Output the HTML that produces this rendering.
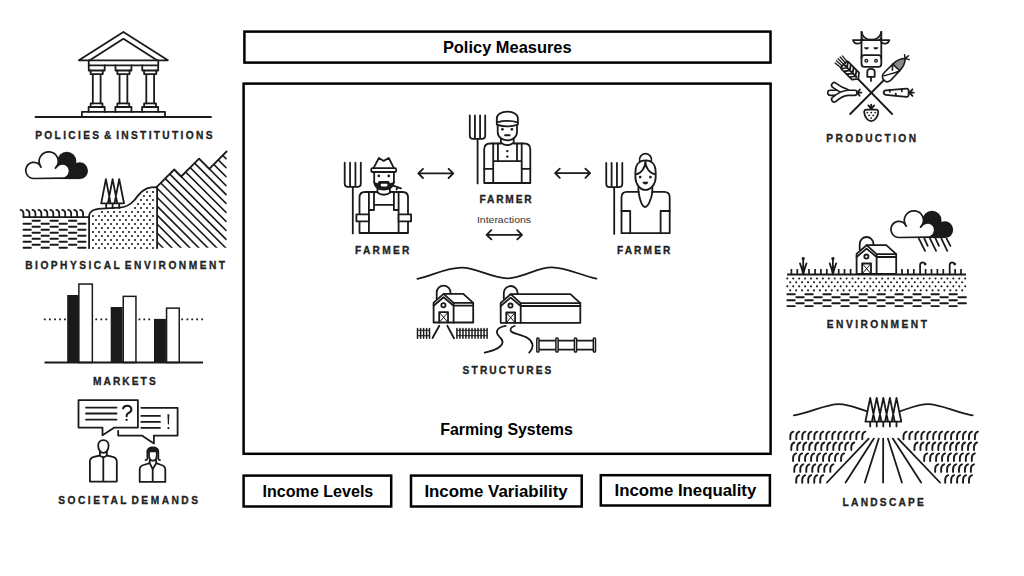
<!DOCTYPE html>
<html><head><meta charset="utf-8"><title>Farming Systems</title>
<style>
html,body{margin:0;padding:0;background:#fff;width:1024px;height:576px;overflow:hidden}
svg{display:block}
.bx{fill:none;stroke:#000;stroke-width:2.5}
.bt{font-family:"Liberation Sans",sans-serif;font-weight:bold;font-size:17px;fill:#000}
.lb{font-family:"Liberation Sans",sans-serif;font-weight:bold;font-size:10.2px;fill:#222;stroke:#222;stroke-width:0.3;word-spacing:-2.6px}
.ic{fill:none;stroke:#1a1a1a;stroke-width:1.8;stroke-linecap:round;stroke-linejoin:round}
.icb{fill:none;stroke:#1a1a1a;stroke-width:1.8;stroke-linecap:butt;stroke-linejoin:miter}
.fd{fill:#1a1a1a}
.fw{fill:#fff}
</style></head>
<body>
<svg width="1024" height="576" viewBox="0 0 1024 576">
<rect width="1024" height="576" fill="#fff"/>
<rect class="bx" x="244.4" y="31.6" width="526.1" height="31"/>
<text class="bt" x="442.9" y="52.6" textLength="128.7" lengthAdjust="spacingAndGlyphs">Policy Measures</text>
<rect class="bx" x="243.6" y="83.6" width="527" height="370.2"/>
<text class="bt" x="440.2" y="434.9" textLength="132.7" lengthAdjust="spacingAndGlyphs">Farming Systems</text>
<rect class="bx" x="243.6" y="475.6" width="147.6" height="30.9"/>
<text class="bt" x="262.6" y="496.6" textLength="110.7" lengthAdjust="spacingAndGlyphs">Income Levels</text>
<rect class="bx" x="411" y="475.6" width="170.7" height="30.9"/>
<text class="bt" x="424.4" y="496.6" textLength="143.3" lengthAdjust="spacingAndGlyphs">Income Variability</text>
<rect class="bx" x="600.8" y="475.2" width="169.1" height="30.3"/>
<text class="bt" x="614.5" y="496.2" textLength="141.8" lengthAdjust="spacingAndGlyphs">Income Inequality</text>

<text class="lb" x="35.2" y="138.9" textLength="177.3" lengthAdjust="spacing">POLICIES &amp; INSTITUTIONS</text>
<text class="lb" x="25.2" y="269.3" textLength="199.8" lengthAdjust="spacing">BIOPHYSICAL ENVIRONMENT</text>
<text class="lb" x="93" y="385.2" textLength="62.7" lengthAdjust="spacing">MARKETS</text>
<text class="lb" x="58.25" y="503.9" textLength="139.75" lengthAdjust="spacing">SOCIETAL DEMANDS</text>
<text class="lb" x="355" y="254.1" textLength="54.3" lengthAdjust="spacing">FARMER</text>
<text class="lb" x="479.5" y="203.1" textLength="52.1" lengthAdjust="spacing">FARMER</text>
<text class="lb" x="616.9" y="253.9" textLength="53.5" lengthAdjust="spacing">FARMER</text>
<text style="font-family:'Liberation Sans',sans-serif;font-size:9.2px;fill:#333" x="476.9" y="223" textLength="54.2" lengthAdjust="spacingAndGlyphs">Interactions</text>
<text class="lb" x="462.6" y="374" textLength="88.8" lengthAdjust="spacing">STRUCTURES</text>
<text class="lb" x="826.3" y="141.8" textLength="89.7" lengthAdjust="spacing">PRODUCTION</text>
<text class="lb" x="826.8" y="327.6" textLength="100.1" lengthAdjust="spacing">ENVIRONMENT</text>
<text class="lb" x="842.6" y="506.2" textLength="81.3" lengthAdjust="spacing">LANDSCAPE</text>
<g class="ic">
<path d="M78.9 60.3 L123.4 31.9 L167.9 60.3 Z"/>
<path d="M89.8 60.3 L123.4 38.8 L157 60.3"/>
<path d="M88.75 60.3 V65.4 H158.25 V60.3"/>
<path d="M35.5 117 H211"/>
<path d="M81.9 117 V111.9 H165 V117"/>
</g>
<g class="ic" transform="translate(0,0)">
<path d="M88.75 65.4 V70.5 H104.7 V65.4"/>
<path d="M92.8 74.1 V103.4 M100.6 74.1 V103.4 M90.6 70.5 V74.1 H102.8 V70.5"/>
<path d="M90.6 103.4 H102.5 V107 M90.6 103.4 V107 M88.6 111.9 V107 H104.7 V111.9"/>
</g>
<g class="ic" transform="translate(26.75,0)">
<path d="M88.75 65.4 V70.5 H104.7 V65.4"/>
<path d="M92.8 74.1 V103.4 M100.6 74.1 V103.4 M90.6 70.5 V74.1 H102.8 V70.5"/>
<path d="M90.6 103.4 H102.5 V107 M90.6 103.4 V107 M88.6 111.9 V107 H104.7 V111.9"/>
</g>
<g class="ic" transform="translate(53.5,0)">
<path d="M88.75 65.4 V70.5 H104.7 V65.4"/>
<path d="M92.8 74.1 V103.4 M100.6 74.1 V103.4 M90.6 70.5 V74.1 H102.8 V70.5"/>
<path d="M90.6 103.4 H102.5 V107 M90.6 103.4 V107 M88.6 111.9 V107 H104.7 V111.9"/>
</g>
<g transform="translate(0,0)">
<circle class="fd" cx="66.8" cy="161.2" r="9.5"/>
<circle class="fd" cx="79.6" cy="170.7" r="8.4"/>
<rect class="fd" x="60" y="164" width="20" height="15.1"/>
<path d="M33.9 178.5 A8.1 8.1 0 1 1 39.77 164.82 A9.55 9.55 0 1 1 56.53 166.82 A7.2 7.2 0 1 1 62.5 178.2 Z" fill="#fff" stroke="#1a1a1a" stroke-width="1.7" stroke-linejoin="round"/>
<path d="M39.77 164.82 A9.55 9.55 0 0 0 41.05 167.1 M56.53 166.82 A9.55 9.55 0 0 1 55.43 168.03" class="ic" stroke-width="1.7"/>
</g>
<g class="ic">
<path d="M20.5 209.9 Q23.5 210.3 23.5 213.5 V217 M26.46 209.9 Q29.46 210.3 29.46 213.5 V217 M32.42 209.9 Q35.42 210.3 35.42 213.5 V217 M38.38 209.9 Q41.38 210.3 41.38 213.5 V217 M44.34 209.9 Q47.34 210.3 47.34 213.5 V217 M50.3 209.9 Q53.3 210.3 53.3 213.5 V217 M56.26 209.9 Q59.26 210.3 59.26 213.5 V217 M62.22 209.9 Q65.22 210.3 65.22 213.5 V217 M68.18 209.9 Q71.18 210.3 71.18 213.5 V217 M74.14 209.9 Q77.14 210.3 77.14 213.5 V217 M80.1 209.9 Q83.1 210.3 83.1 213.5 V217"/>
<path d="M23.5 217.1 H89.1"/>
</g>
<path d="M23.5 223.8 h7.4 M41.5 223.8 h7.4 M59.5 223.8 h7.4 M78.2 223.8 h7.4 M32.5 220.8 h7.4 M50.5 220.8 h7.4 M69 220.8 h7.4 M23.5 229.8 h7.4 M41.5 229.8 h7.4 M59.5 229.8 h7.4 M78.2 229.8 h7.4 M32.5 226.8 h7.4 M50.5 226.8 h7.4 M69 226.8 h7.4 M23.5 235.8 h7.4 M41.5 235.8 h7.4 M59.5 235.8 h7.4 M78.2 235.8 h7.4 M32.5 232.8 h7.4 M50.5 232.8 h7.4 M69 232.8 h7.4 M23.5 241.8 h7.4 M41.5 241.8 h7.4 M59.5 241.8 h7.4 M78.2 241.8 h7.4 M32.5 238.8 h7.4 M50.5 238.8 h7.4 M69 238.8 h7.4 M23.5 247.8 h7.4 M41.5 247.8 h7.4 M59.5 247.8 h7.4 M78.2 247.8 h7.4 M32.5 244.8 h7.4 M50.5 244.8 h7.4 M69 244.8 h7.4" stroke="#1a1a1a" stroke-width="1.9" stroke-linecap="round" fill="none"/>
<path class="ic" d="M89.1 248.2 V216.6 C89.1 211 93 209 101.6 208.6 L119.6 207.6 C127 207.2 130.5 204.5 134 200.5 C139.5 194 143 188.5 151 187.3 L157.1 187.2 V248.2"/>
<path d="M147 192h0M153 192h0M144 196h0M150 196h0M141 200h0M147 200h0M153 200h0M138 204h0M144 204h0M150 204h0M135 208h0M141 208h0M147 208h0M153 208h0M102 212h0M108 212h0M114 212h0M120 212h0M126 212h0M132 212h0M138 212h0M144 212h0M150 212h0M93 216h0M99 216h0M105 216h0M111 216h0M117 216h0M123 216h0M129 216h0M135 216h0M141 216h0M147 216h0M153 216h0M96 220h0M102 220h0M108 220h0M114 220h0M120 220h0M126 220h0M132 220h0M138 220h0M144 220h0M150 220h0M93 224h0M99 224h0M105 224h0M111 224h0M117 224h0M123 224h0M129 224h0M135 224h0M141 224h0M147 224h0M153 224h0M96 228h0M102 228h0M108 228h0M114 228h0M120 228h0M126 228h0M132 228h0M138 228h0M144 228h0M150 228h0M93 232h0M99 232h0M105 232h0M111 232h0M117 232h0M123 232h0M129 232h0M135 232h0M141 232h0M147 232h0M153 232h0M96 236h0M102 236h0M108 236h0M114 236h0M120 236h0M126 236h0M132 236h0M138 236h0M144 236h0M150 236h0M93 240h0M99 240h0M105 240h0M111 240h0M117 240h0M123 240h0M129 240h0M135 240h0M141 240h0M147 240h0M153 240h0M96 244h0M102 244h0M108 244h0M114 244h0M120 244h0M126 244h0M132 244h0M138 244h0M144 244h0M150 244h0M93 248h0M99 248h0M105 248h0M111 248h0M117 248h0M123 248h0M129 248h0M135 248h0M141 248h0M147 248h0M153 248h0" stroke="#1a1a1a" stroke-width="2.1" stroke-linecap="round" fill="none"/>
<path class="ic" d="M101.2 203.3 L105.9 179.1 L110.6 203.3 M107.9 203.3 L112.6 179.1 L117.3 203.3 M114.5 203.3 L119.2 179.1 L124 203.3 M101.2 203.3 H124 M106.2 203.3 V208 M112.6 203.3 V208 M119.2 203.3 V208"/>
<clipPath id="mclip"><path d="M157.1 186.6 L174.2 169.5 L181.2 176.5 L199.1 158.6 L209.3 168.8 L226.8 151.3 L226.8 247.8 L157.1 247.8 Z"/></clipPath>
<path clip-path="url(#mclip)" d="M157.1 89.8 L226.6 159.3 M157.1 98.75 L226.6 168.25 M157.1 107.7 L226.6 177.2 M157.1 116.65 L226.6 186.15 M157.1 125.6 L226.6 195.1 M157.1 134.55 L226.6 204.05 M157.1 143.5 L226.6 213 M157.1 152.45 L226.6 221.95 M157.1 161.4 L226.6 230.9 M157.1 170.35 L226.6 239.85 M157.1 179.3 L226.6 248.8 M157.1 188.25 L226.6 257.75 M157.1 197.2 L226.6 266.7 M157.1 206.15 L226.6 275.65 M157.1 215.1 L226.6 284.6 M157.1 224.05 L226.6 293.55 M157.1 233 L226.6 302.5 M157.1 241.95 L226.6 311.45" stroke="#1a1a1a" stroke-width="1.6" fill="none"/>
<path class="ic" d="M157.1 186.6 L174.2 169.5 L181.2 176.5 L199.1 158.6 L209.3 168.8 L226.6 151.5"/>
<path d="M43.9 319.4h1.8M49 319.4h1.8M54.1 319.4h1.8M59.2 319.4h1.8M64 319.4h1.8M95.35 319.4h1.8M100.4 319.4h1.8M105.35 319.4h1.8M138.5 319.4h1.8M143.4 319.4h1.8M148.3 319.4h1.8M181.3 319.4h1.8M186.5 319.4h1.8M191.3 319.4h1.8M196.2 319.4h1.8M201.3 319.4h1.8" stroke="#1a1a1a" stroke-width="1.9" fill="none"/>
<rect class="fd" x="67.2" y="295" width="11.6" height="67.5"/>
<rect class="fd" x="110.7" y="307" width="11.9" height="55.5"/>
<rect class="fd" x="154" y="318.9" width="11.9" height="43.6"/>
<g fill="#fff" stroke="#1a1a1a" stroke-width="1.5">
<rect x="78.85" y="284.05" width="13.5" height="78.45"/>
<rect x="123.25" y="296.35" width="12.7" height="66.15"/>
<rect x="166.55" y="308.15" width="12.7" height="54.35"/>
</g>
<path class="icb" d="M44.5 362.5 H203"/>
<g class="ic">
<path d="M141.3 407.8 H177.6 V435.6 H153.9 V443.4 L141.8 435.6 H118.2 V431"/>
<path d="M141.3 415.9 H160 M141.3 421.9 H160 M141.3 427.8 H160" stroke-width="1.8"/>
<path d="M78.5 400.1 H137.9 V427.6 H114.4 L102.5 435.3 V427.6 H78.5 Z" fill="#fff"/>
<path d="M86 407.6 H116.5 M86 413.5 H116.5 M86 419.7 H116.5" stroke-width="1.8"/>
<path stroke-width="2.1" d="M123.1 408.3 C123.8 406.4 125.4 405.7 127.2 405.7 C129.6 405.7 131.4 407.3 131.4 409.4 C131.4 411.5 129.8 412.3 128.2 413.2 C127 413.9 126.6 414.7 126.6 416.3"/>
</g>
<circle class="fd" cx="126.6" cy="419.9" r="1.15"/>
<path class="fd" d="M167.4 414.2 H169.4 L168.9 424.6 H167.9 Z"/>
<circle class="fd" cx="168.4" cy="428.1" r="1.1"/>
<g class="ic">
<path d="M103.4 440.2 C100.3 440.2 98.2 442.4 98.2 445.6 C98.2 450 100.6 452.9 103.4 452.9 C106.2 452.9 108.6 450 108.6 445.6 C108.6 442.4 106.5 440.2 103.4 440.2 Z"/>
<path d="M99.9 451.8 V455.4 M106.8 451.8 V455.4 M99.9 455.3 Q101.2 457.2 103.3 457.2 Q105.4 457.2 106.8 455.3"/>
<path d="M99.9 455.5 L94 456.8 Q89.9 458 89.9 461.5 V481.6 H116.8 V461.5 Q116.8 458 112.8 456.8 L106.8 455.5 M103.3 457.2 V481.6"/>
<path d="M147.4 451.6 V458.5 Q147.4 460 145.6 460.2 M158.3 451.6 V458.5 Q158.3 460 160 460.2"/>
<path d="M149 451.6 V455 Q149 460.7 152.9 460.7 Q156.8 460.7 156.8 455 V451.6"/>
<path d="M149.7 460.3 V463.2 M156.2 460.3 V463.2 M149.7 463.2 L152.7 469.1 L156.2 463.2"/>
<path d="M149.7 463.2 L143.6 465 Q139.7 466.2 139.7 469.5 V481.9 H165.3 V469.5 Q165.3 466.2 161.4 465 L156.2 463.2 M152.7 469.1 V481.9"/>
</g>
<path class="fd" d="M146.6 452.3 V451.5 C146.6 448.3 149.3 446.5 152.85 446.5 C156.4 446.5 159.1 448.3 159.1 451.5 V452.3 Z"/>
<path class="ic" d="M344.7 162.7 V183.5 Q344.7 186.9 348.1 186.9 H357.4 Q360.8 186.9 360.8 183.5 V162.7 M350.07 162.7 V186.9 M355.43 162.7 V186.9 M352.8 186.9 V233.4"/>
<g class="ic">
<path d="M373.5 168.2 L378.9 158 L383.7 160.9 L388.8 158 L393.9 168.2"/>
<rect x="371.3" y="168.2" width="24.8" height="3.8" rx="1"/>
<path d="M374.2 172 V182.5 M393.9 172 V182.5"/>
<path d="M377.5 188 V191.8 M389.9 188 V191.8 M376.7 192 Q383.7 197.5 391.2 192"/>
<path d="M359.5 233 V197.5 Q359.5 192 365 192 H376.7 M391.2 192 H402.5 Q408 192 408 197.5 V233 H359.5"/>
<path d="M368.9 192 V210 H374 V192 M374 204.9 H393.9 M393.9 192 V210 H398.6 V192 M368.9 210 V233 M398.6 210 V233"/>
<path d="M356.4 214.3 H368.9 V221.3 H356.4 Z M398.6 214.3 H411.1 V221.3 H398.6 Z" fill="#fff"/>
<path d="M391 184.8 L401 188.4 M397.2 187.3 L396.6 189.6"/>
</g>
<circle class="fd" cx="378.8" cy="175.9" r="1.35"/><circle class="fd" cx="388.8" cy="175.9" r="1.35"/>
<path class="fd" d="M373.4 181.6 C373.4 187.5 378 190.6 383.8 190.6 C389.6 190.6 394.7 187.5 394.7 181.6 L390.2 183.2 L388.6 181 H379 L377.4 183.2 Z"/>
<rect class="fw" x="380.8" y="183.8" width="6.6" height="2.6" rx="0.8"/>
<path class="ic" d="M469.8 115.4 V135.4 Q469.8 138.8 473.2 138.8 H481.8 Q485.2 138.8 485.2 135.4 V115.4 M474.93 115.4 V138.8 M480.07 115.4 V138.8 M477.6 138.8 V183.4"/>
<g class="ic">
<path d="M496.8 124.6 V118.5 C496.8 114.2 501.5 111.7 507.3 111.7 C513.1 111.7 517.9 114.2 517.9 118.5 V124.6 Q507.3 128.2 496.8 124.6 Z"/>
<path d="M497 122.3 Q507.3 119.6 517.7 122.3"/>
<path d="M497.7 125.8 V132 C497.7 137 502 140.3 507.3 140.3 C512.6 140.3 517 137 517 132 V125.8"/>
<path d="M500.9 138.6 V142.8 M513.7 138.6 V142.8 M500.9 142.8 Q507.3 147.6 513.7 142.8"/>
<path d="M500.9 143.5 H490.2 Q484.2 143.5 484.2 149.5 V183 H530.3 V149.5 Q530.3 143.5 524.3 143.5 H513.7"/>
<path d="M493.2 143.5 V183 M497.9 143.5 V161.1 M517 143.5 V161.1 M521.7 143.5 V183 M493.2 161.1 H521.7 M484.2 168.9 H493.2 M521.7 168.9 H530.3"/>
<path d="M505.1 135.2 H509.6" stroke-width="1.9"/>
</g>
<circle class="fd" cx="502.4" cy="129.3" r="1.35"/><circle class="fd" cx="511.9" cy="129.3" r="1.35"/>
<circle class="fd" cx="507.3" cy="151.1" r="1.2"/><circle class="fd" cx="507.3" cy="156.6" r="1.2"/>
<path class="ic" d="M606.25 162.9 V183.7 Q606.25 187.1 609.65 187.1 H618.9 Q622.3 187.1 622.3 183.7 V162.9 M611.6 162.9 V187.1 M616.95 162.9 V187.1 M614.2 187.1 V233.9"/>
<g class="ic">
<path d="M639.7 161.2 A6 6 0 1 1 651.3 161.2"/>
<path d="M645.5 160.4 C639 160.4 635.4 165 635.4 172 V177 C635.4 184 640 189.9 645.5 189.9 C651 189.9 655.7 184 655.7 177 V172 C655.7 165 652 160.4 645.5 160.4 Z"/>
<path d="M645.4 161 C645.6 168 641 173.5 635.8 174.3 M645.4 161 C645.2 168 650 173.5 655.3 174.3"/>
<path d="M638.4 187 V191.9 M652.3 187 V191.9"/>
<path d="M638.6 191.9 H627 Q621.5 191.9 621.5 197.4 V233.2 H669.7 V197.4 Q669.7 191.9 664.2 191.9 H652.4"/>
<path d="M638.6 191.9 C639.5 199 642 207 645 207 C648 207 651.5 199 652.4 191.9"/>
<path d="M621.5 211 H630.2 V233.2 M669.7 211 H660.6 V233.2"/>
</g>
<circle class="fd" cx="640.2" cy="177.1" r="1.35"/><circle class="fd" cx="650.4" cy="177.1" r="1.35"/>
<path class="fd" d="M642.6 181.7 H648.2 C648.2 183.4 647 184.5 645.4 184.5 C643.8 184.5 642.6 183.4 642.6 181.7 Z"/>
<path class="ic" stroke-width="1.7" d="M418.3 173.4 H453.3 M423 168.8 L418.3 173.4 L423 178 M448.6 168.8 L453.3 173.4 L448.6 178"/>
<path class="ic" stroke-width="1.7" d="M555.1 173.2 H590.1 M559.8 168.6 L555.1 173.2 L559.8 177.8 M585.4 168.6 L590.1 173.2 L585.4 177.8"/>
<path class="ic" stroke-width="1.7" d="M486.6 234.8 H522 M491.3 230.2 L486.6 234.8 L491.3 239.4 M517.3 230.2 L522 234.8 L517.3 239.4"/>
<path class="ic" d="M417.4 278.9 C432 275.5 447 267.7 461.6 267.7 C476.5 267.7 492 278.3 507.2 278.3 C522 278.3 537 267.4 551.7 267.4 C566.5 267.4 581 275.5 596.4 278.7"/>
<g class="ic">
<path d="M436.7 298.5 V292.6 A6.9 6.9 0 0 1 450.5 292.6 V293.7"/>
<path d="M433.6 322.5 V302.6 L443.6 293.9 H463.3 L473.2 302.8 V322.5 Z"/>
<path d="M443.6 293.9 L453.6 302.8 V322.5 M433.6 305.7 L443.6 297.3 L453.6 305.7 H473.2 M453.6 302.8 H473.2"/>
<circle cx="443.4" cy="305.3" r="2.1"/>
<path d="M439.2 322.5 V312.2 H448 V322.5"/>
<path d="M439.2 312.2 L448 322.5 M448 312.2 L439.2 322.5" stroke-width="1"/>
</g>
<g class="ic">
<path d="M503.8 298.8 V292.9 A6.9 6.9 0 0 1 517.6 292.9 V294"/>
<path d="M500.7 322.8 V302.9 L510.7 294.2 H570.4 L580.3 303.1 V322.8 Z"/>
<path d="M510.7 294.2 L520.7 303.1 V322.8 M500.7 306 L510.7 297.6 L520.7 306 H580.3 M520.7 303.1 H580.3"/>
<circle cx="510.5" cy="305.6" r="2.1"/>
<path d="M506.3 322.8 V312.5 H515.1 V322.8"/>
<path d="M506.3 312.5 L515.1 322.8 M515.1 312.5 L506.3 322.8" stroke-width="1"/>
</g>
<path d="M417.5 328.6 V338.2 M420.6 328.6 V338.2 M423.6 328.6 V338.2 M426.6 328.6 V338.2 M429.5 328.6 V338.2 M456.9 328.6 V338.2 M459.92 328.6 V338.2 M462.94 328.6 V338.2 M465.96 328.6 V338.2 M468.98 328.6 V338.2 M472 328.6 V338.2 M475.02 328.6 V338.2 M478.04 328.6 V338.2 M481.06 328.6 V338.2 M484.08 328.6 V338.2 M487.1 328.6 V338.2" stroke="#1a1a1a" stroke-width="1.5" stroke-linecap="round" fill="none"/>
<path d="M417.5 330.3 H429.5 M417.5 335.7 H429.5 M456.9 330.3 H487.1 M456.9 335.7 H487.1" stroke="#1a1a1a" stroke-width="1" fill="none"/>
<path class="ic" d="M439.3 325.8 L432.5 338 M447.3 325.8 L454 338.2"/>
<path class="ic" d="M505.7 325.8 C500.5 326.5 496.3 329 497 332.8 C497.8 337 503.2 338.5 502.5 342.5 C501.7 347.5 492 351 484.7 352.7"/>
<path class="ic" d="M514.7 326 C511 327 509.3 329.5 511.3 331.5 C514 334 522 334.6 527.5 338 C532.8 341.3 534.8 346.5 529.2 352.6"/>
<path class="ic" d="M537.9 340.6 H594.4 M537.9 349.7 H594.4"/>
<rect x="536.8" y="337.9" width="2.2" height="14.1" rx="0.8" fill="#fff" stroke="#1a1a1a" stroke-width="1.5"/>
<rect x="555.9" y="337.9" width="2.2" height="14.1" rx="0.8" fill="#fff" stroke="#1a1a1a" stroke-width="1.5"/>
<rect x="574.4" y="337.9" width="2.2" height="14.1" rx="0.8" fill="#fff" stroke="#1a1a1a" stroke-width="1.5"/>
<rect x="593.3" y="337.9" width="2.2" height="14.1" rx="0.8" fill="#fff" stroke="#1a1a1a" stroke-width="1.5"/>
<path class="ic" d="M857.5 78.5 L892.1 114 M883.5 80.5 L850.2 114"/>
<g transform="translate(858.3,78.9) rotate(-135)">
<path d="M0 0 L4 -5 H19 Q20.5 -5 20.5 -3.5 V3.5 Q20.5 5 19 5 H4 Z" fill="#fff" stroke="#1a1a1a" stroke-width="1.7" stroke-linejoin="round"/>
<path d="M4 0 L7.5 -5 M4 0 L7.5 5 M8 0 L11.5 -5 M8 0 L11.5 5 M12 0 L15.5 -5 M12 0 L15.5 5 M16 0 L19.5 -5 M16 0 L19.5 5 M2 0 H20.5" stroke="#1a1a1a" stroke-width="1.9" fill="none"/>
<path d="M20.5 -4.3 L27.5 -5.2 M20.5 -2.1 L28.3 -2.6 M20.5 0 H28.6 M20.5 2.1 L28.3 2.6 M20.5 4.3 L27.5 5" stroke="#1a1a1a" stroke-width="1.3" stroke-linecap="round" fill="none"/>
</g>
<g transform="translate(885.3,79.2) rotate(-45)">
<path d="M16 -5.4 C22 -5.4 27 -2.2 28.6 -0.6 C27 1 22.5 4.2 16.2 4.2 Z" fill="#8a8a8a" stroke="#1a1a1a" stroke-width="1.6" stroke-linejoin="round"/>
<path d="M16.2 4.2 L4 4.6 Q-1.6 4.6 -1.6 0 Q-1.6 -5.4 4 -5.4 H16 Q13 -3 11 -1" fill="#fff" stroke="#1a1a1a" stroke-width="1.6" stroke-linejoin="round"/>
<path d="M1.5 -3.3 C7 -0.5 11 2.5 16.2 4.2" fill="none" stroke="#1a1a1a" stroke-width="1.5" stroke-linecap="round"/>
<path d="M28.6 -0.6 L30.9 -3.6 M28.6 -0.6 L33 -0.2 M28.6 -0.6 L30.7 3" fill="none" stroke="#1a1a1a" stroke-width="1.5" stroke-linecap="round"/>
</g>
<g class="ic">
<path d="M861.5 31.8 V64 Q861.5 66.8 864.3 66.8 H878.5 Q881.3 66.8 881.3 64 V31.8"/>
<path d="M861.5 31.8 C862.5 37 866 39.6 871.4 39.6 C876.8 39.6 880.3 37 881.3 31.8"/>
<path d="M852.9 40.1 H889.4 M852.9 40.1 Q854 43.8 857.5 43.7 Q860 43.6 861.5 42 M889.4 40.1 Q888.3 43.8 884.8 43.7 Q882.3 43.6 881.3 42"/>
<path d="M861.5 58 Q861.5 55.2 864.3 55.2 H878.5 Q881.3 55.2 881.3 58"/>
<circle cx="866.3" cy="60.8" r="1.35" stroke-width="1.3"/><circle cx="876" cy="60.8" r="1.35" stroke-width="1.3"/>
<path d="M867.3 76.8 V72 Q867.3 68.8 871 68.8 Q874.7 68.8 874.7 72 V76.8 Z M871 76.8 V80.9"/>
</g>
<path class="fd" d="M864 47.3 H869 Q868.5 49.6 866.5 49.6 Q864.5 49.6 864 47.3 Z M873.3 47.3 H878.3 Q877.8 49.6 875.8 49.6 Q873.8 49.6 873.3 47.3 Z"/>
<path class="fd" d="M861.5 36.5 Q863 39.5 866 40.2 H861.5 Z M881.3 36.5 Q879.8 39.5 876.8 40.2 H881.3 Z"/>
<path d="M841.5 92.8 H830.3" fill="none" stroke="#1a1a1a" stroke-width="6.8" stroke-linecap="round"/><path d="M841.5 92.8 H830.3" fill="none" stroke="#fff" stroke-width="3.6" stroke-linecap="round"/>
<path d="M846.5 91.8 Q840.5 89.8 834.2 85.2" fill="none" stroke="#1a1a1a" stroke-width="6.8" stroke-linecap="round"/><path d="M846.5 91.8 Q840.5 89.8 834.2 85.2" fill="none" stroke="#fff" stroke-width="3.6" stroke-linecap="round"/>
<path d="M854.6 92.8 H848 Q841 93.3 834.2 99.4" fill="none" stroke="#1a1a1a" stroke-width="6.8" stroke-linecap="round"/><path d="M854.6 92.8 H848 Q841 93.3 834.2 99.4" fill="none" stroke="#fff" stroke-width="3.6" stroke-linecap="round"/>
<path class="ic" d="M857.3 92.6 L859.9 89.5 M857.3 92.6 L861.4 92.6 M857.3 92.6 L859.6 95.7" stroke-width="1.4"/>
<path class="ic" d="M885.8 90.3 L906.4 88.6 Q908.6 88.5 908.6 90.6 V94.8 Q908.6 96.9 906.4 96.8 L885.8 94.8 Q883.7 94.6 883.7 92.55 Q883.7 90.5 885.8 90.3 Z"/>
<path class="ic" d="M889.8 90 V91.8 M901.8 89.1 V91.3 M895.8 95.3 V93.6" stroke-width="1.6"/>
<path class="ic" d="M909.2 92.6 L912.5 89.3 M909.2 92.6 H913.8 M909.2 92.6 L912.5 95.9" stroke-width="1.4"/>
<path class="ic" d="M866.5 109.6 H876 Q878.4 109.6 878.2 112.5 C877.8 117 874.5 121.2 871.2 121.2 C867.9 121.2 864.6 117 864.2 112.5 Q864 109.6 866.5 109.6 Z"/>
<path class="ic" d="M871.2 108.8 V104.6 M871.2 108.6 L868.3 105.4 M871.2 108.6 L874.2 105.5" stroke-width="1.4"/>
<path class="fd" d="M869 109.6 L871.2 106.8 L873.4 109.6 Z"/>
<circle class="fd" cx="867.3" cy="112.6" r="0.95"/>
<circle class="fd" cx="871.2" cy="112.6" r="0.95"/>
<circle class="fd" cx="875.2" cy="112.6" r="0.95"/>
<circle class="fd" cx="869.2" cy="115.4" r="0.95"/>
<circle class="fd" cx="873.25" cy="115.4" r="0.95"/>
<circle class="fd" cx="871.2" cy="118.1" r="0.95"/>
<path class="ic" d="M918.9 238.6 L925 250.8 M930 238.6 L936.1 250.8 M941.4 238.6 L947.3 250.8 M924.4 238.6 L927.7 245.8 M935.6 238.6 L939 245.8 M946.6 238.6 L950.4 245.8"/>
<g transform="translate(865.2,59)">
<circle class="fd" cx="66.8" cy="161.2" r="9.5"/>
<circle class="fd" cx="79.6" cy="170.7" r="8.4"/>
<rect class="fd" x="60" y="164" width="20" height="15.1"/>
<path d="M33.9 178.5 A8.1 8.1 0 1 1 39.77 164.82 A9.55 9.55 0 1 1 56.53 166.82 A7.2 7.2 0 1 1 62.5 178.2 Z" fill="#fff" stroke="#1a1a1a" stroke-width="1.7" stroke-linejoin="round"/>
<path d="M39.77 164.82 A9.55 9.55 0 0 0 41.05 167.1 M56.53 166.82 A9.55 9.55 0 0 1 55.43 168.03" class="ic" stroke-width="1.7"/>
</g>
<g class="ic">
<path d="M859.7 249.8 V243.9 A6.9 6.9 0 0 1 873.5 243.9 V245"/>
<path d="M856.6 273.8 V253.9 L866.6 245.2 H886.3 L896.2 254.1 V273.8 Z"/>
<path d="M866.6 245.2 L876.6 254.1 V273.8 M856.6 257 L866.6 248.6 L876.6 257 H896.2 M876.6 254.1 H896.2"/>
<circle cx="866.4" cy="256.6" r="2.1"/>
<path d="M862.2 273.8 V263.5 H871 V273.8"/>
<path d="M862.2 263.5 L871 273.8 M871 263.5 L862.2 273.8" stroke-width="1"/>
</g>
<path class="icb" d="M787.1 274.5 H966"/>
<path d="M791.4 269.1 V274.5 M797.3 269.1 V274.5 M809 269.1 V274.5 M815.1 269.1 V274.5 M820.9 269.1 V274.5 M826.8 269.1 V274.5 M838.7 269.1 V274.5 M844.5 269.1 V274.5 M850.6 269.1 V274.5 M902 269.1 V274.5 M907.9 269.1 V274.5 M913.8 269.1 V274.5 M925.6 269.1 V274.5 M931.5 269.1 V274.5 M937.4 269.1 V274.5 M943.3 269.1 V274.5 M955.1 269.1 V274.5 M961 269.1 V274.5" stroke="#1a1a1a" stroke-width="1.7" fill="none"/>
<path class="ic" stroke-width="1.8" d="M803.2 259 V274.3 M800 263.4 Q801.9 268 803 273.6 M806.5 263.4 Q804.6 268 803.5 273.6"/>
<circle class="fd" cx="803.2" cy="258.6" r="1.6"/>
<path class="ic" stroke-width="1.8" d="M832.9 259 V274.3 M829.7 263.4 Q831.6 268 832.7 273.6 M836.2 263.4 Q834.3 268 833.2 273.6"/>
<circle class="fd" cx="832.9" cy="258.6" r="1.6"/>
<path class="ic" stroke-width="1.8" d="M920.1 274.3 V265 Q920.1 262.4 922.7 262.4 Q924.7 262.5 925.1 264"/>
<circle class="fd" cx="925.1" cy="264.1" r="1.35"/>
<path class="ic" stroke-width="1.8" d="M949.7 274.3 V265 Q949.7 262.4 952.3 262.4 Q954.3 262.5 954.7 264"/>
<circle class="fd" cx="954.7" cy="264.1" r="1.35"/>
<path d="M787.3 278.45h0M793.23 278.45h0M799.16 278.45h0M805.09 278.45h0M811.02 278.45h0M816.95 278.45h0M822.88 278.45h0M828.81 278.45h0M834.74 278.45h0M840.67 278.45h0M846.6 278.45h0M852.53 278.45h0M858.46 278.45h0M864.39 278.45h0M870.32 278.45h0M876.25 278.45h0M882.18 278.45h0M888.11 278.45h0M894.04 278.45h0M899.97 278.45h0M905.9 278.45h0M911.83 278.45h0M917.76 278.45h0M923.69 278.45h0M929.62 278.45h0M935.55 278.45h0M941.48 278.45h0M947.41 278.45h0M953.34 278.45h0M959.27 278.45h0M965.2 278.45h0M790.25 282.3h0M796.18 282.3h0M802.11 282.3h0M808.04 282.3h0M813.97 282.3h0M819.9 282.3h0M825.83 282.3h0M831.76 282.3h0M837.69 282.3h0M843.62 282.3h0M849.55 282.3h0M855.48 282.3h0M861.41 282.3h0M867.34 282.3h0M873.27 282.3h0M879.2 282.3h0M885.13 282.3h0M891.06 282.3h0M896.99 282.3h0M902.92 282.3h0M908.85 282.3h0M914.78 282.3h0M920.71 282.3h0M926.64 282.3h0M932.57 282.3h0M938.5 282.3h0M944.43 282.3h0M950.36 282.3h0M956.29 282.3h0M962.22 282.3h0M787.3 286.35h0M793.23 286.35h0M799.16 286.35h0M805.09 286.35h0M811.02 286.35h0M816.95 286.35h0M822.88 286.35h0M828.81 286.35h0M834.74 286.35h0M840.67 286.35h0M846.6 286.35h0M852.53 286.35h0M858.46 286.35h0M864.39 286.35h0M870.32 286.35h0M876.25 286.35h0M882.18 286.35h0M888.11 286.35h0M894.04 286.35h0M899.97 286.35h0M905.9 286.35h0M911.83 286.35h0M917.76 286.35h0M923.69 286.35h0M929.62 286.35h0M935.55 286.35h0M941.48 286.35h0M947.41 286.35h0M953.34 286.35h0M959.27 286.35h0M965.2 286.35h0M790.25 290.35h0M796.18 290.35h0M802.11 290.35h0M808.04 290.35h0M813.97 290.35h0M819.9 290.35h0M825.83 290.35h0M831.76 290.35h0M837.69 290.35h0M843.62 290.35h0M849.55 290.35h0M855.48 290.35h0M861.41 290.35h0M867.34 290.35h0M873.27 290.35h0M879.2 290.35h0M885.13 290.35h0M891.06 290.35h0M896.99 290.35h0M902.92 290.35h0M908.85 290.35h0M914.78 290.35h0M920.71 290.35h0M926.64 290.35h0M932.57 290.35h0M938.5 290.35h0M944.43 290.35h0M950.36 290.35h0M956.29 290.35h0M962.22 290.35h0" stroke="#1a1a1a" stroke-width="2.1" stroke-linecap="round" fill="none"/>
<path d="M787.3 294.3h7.5 M805.31 294.3h7.5 M823.32 294.3h7.5 M841.33 294.3h7.5 M859.34 294.3h7.5 M877.35 294.3h7.5 M895.36 294.3h7.5 M913.37 294.3h7.5 M931.38 294.3h7.5 M949.39 294.3h7.5 M787.3 300.2h7.5 M805.31 300.2h7.5 M823.32 300.2h7.5 M841.33 300.2h7.5 M859.34 300.2h7.5 M877.35 300.2h7.5 M895.36 300.2h7.5 M913.37 300.2h7.5 M931.38 300.2h7.5 M949.39 300.2h7.5 M787.3 306.1h7.5 M805.31 306.1h7.5 M823.32 306.1h7.5 M841.33 306.1h7.5 M859.34 306.1h7.5 M877.35 306.1h7.5 M895.36 306.1h7.5 M913.37 306.1h7.5 M931.38 306.1h7.5 M949.39 306.1h7.5 M796.3 297.2h7.5 M814.31 297.2h7.5 M832.32 297.2h7.5 M850.33 297.2h7.5 M868.34 297.2h7.5 M886.35 297.2h7.5 M904.36 297.2h7.5 M922.37 297.2h7.5 M940.38 297.2h7.5 M958.39 297.2h7.5 M796.3 303.2h7.5 M814.31 303.2h7.5 M832.32 303.2h7.5 M850.33 303.2h7.5 M868.34 303.2h7.5 M886.35 303.2h7.5 M904.36 303.2h7.5 M922.37 303.2h7.5 M940.38 303.2h7.5 M958.39 303.2h7.5" stroke="#1a1a1a" stroke-width="1.9" stroke-linecap="round" fill="none"/>
<path class="ic" d="M793.9 415.3 C809 413.5 825 404.1 838.8 404.1 C848 404.1 858 408.5 867 411.3 M972.7 415.3 C957.6 413.5 941.6 404.1 927.8 404.1 C918.6 404.1 908.6 408.5 899.8 411.3"/>
<path class="ic" d="M865.4 421.7 L870.2 397.9 L875 421.7 M870.2 421.7 V426.4 M871.9 421.7 L876.7 397.9 L881.5 421.7 M876.7 421.7 V426.4 M878.5 421.7 L883.3 397.9 L888.1 421.7 M883.3 421.7 V426.4 M885.1 421.7 L889.9 397.9 L894.7 421.7 M889.9 421.7 V426.4 M891.7 421.7 L896.5 397.9 L901.3 421.7 M896.5 421.7 V426.4 M865.4 421.7 H901.3"/>
<path d="M793.35 431.6 C791.2 432.2 790.3 434.1 790.3 436.2 V439.2 M799.35 431.6 C797.2 432.2 796.3 434.1 796.3 436.2 V439.2 M805.35 431.6 C803.2 432.2 802.3 434.1 802.3 436.2 V439.2 M811.35 431.6 C809.2 432.2 808.3 434.1 808.3 436.2 V439.2 M817.35 431.6 C815.2 432.2 814.3 434.1 814.3 436.2 V439.2 M823.35 431.6 C821.2 432.2 820.3 434.1 820.3 436.2 V439.2 M829.35 431.6 C827.2 432.2 826.3 434.1 826.3 436.2 V439.2 M835.35 431.6 C833.2 432.2 832.3 434.1 832.3 436.2 V439.2 M841.35 431.6 C839.2 432.2 838.3 434.1 838.3 436.2 V439.2 M847.35 431.6 C845.2 432.2 844.3 434.1 844.3 436.2 V439.2 M853.35 431.6 C851.2 432.2 850.3 434.1 850.3 436.2 V439.2 M859.35 431.6 C857.2 432.2 856.3 434.1 856.3 436.2 V439.2 M865.35 431.6 C863.2 432.2 862.3 434.1 862.3 436.2 V439.2 M794.35 442.5 C792.2 443.1 791.3 445 791.3 447.1 V450.1 M800.35 442.5 C798.2 443.1 797.3 445 797.3 447.1 V450.1 M806.35 442.5 C804.2 443.1 803.3 445 803.3 447.1 V450.1 M812.35 442.5 C810.2 443.1 809.3 445 809.3 447.1 V450.1 M818.35 442.5 C816.2 443.1 815.3 445 815.3 447.1 V450.1 M824.35 442.5 C822.2 443.1 821.3 445 821.3 447.1 V450.1 M830.35 442.5 C828.2 443.1 827.3 445 827.3 447.1 V450.1 M836.35 442.5 C834.2 443.1 833.3 445 833.3 447.1 V450.1 M842.35 442.5 C840.2 443.1 839.3 445 839.3 447.1 V450.1 M848.35 442.5 C846.2 443.1 845.3 445 845.3 447.1 V450.1 M854.35 442.5 C852.2 443.1 851.3 445 851.3 447.1 V450.1 M796.15 453.4 C794 454 793.1 455.9 793.1 458 V461 M802.15 453.4 C800 454 799.1 455.9 799.1 458 V461 M808.15 453.4 C806 454 805.1 455.9 805.1 458 V461 M814.15 453.4 C812 454 811.1 455.9 811.1 458 V461 M820.15 453.4 C818 454 817.1 455.9 817.1 458 V461 M826.15 453.4 C824 454 823.1 455.9 823.1 458 V461 M832.15 453.4 C830 454 829.1 455.9 829.1 458 V461 M838.15 453.4 C836 454 835.1 455.9 835.1 458 V461 M844.15 453.4 C842 454 841.1 455.9 841.1 458 V461 M797.35 464.3 C795.2 464.9 794.3 466.8 794.3 468.9 V471.9 M803.35 464.3 C801.2 464.9 800.3 466.8 800.3 468.9 V471.9 M809.35 464.3 C807.2 464.9 806.3 466.8 806.3 468.9 V471.9 M815.35 464.3 C813.2 464.9 812.3 466.8 812.3 468.9 V471.9 M821.35 464.3 C819.2 464.9 818.3 466.8 818.3 468.9 V471.9 M827.35 464.3 C825.2 464.9 824.3 466.8 824.3 468.9 V471.9 M833.35 464.3 C831.2 464.9 830.3 466.8 830.3 468.9 V471.9 M799.3 475.2 C797.15 475.8 796.25 477.7 796.25 479.8 V482.8 M805.3 475.2 C803.15 475.8 802.25 477.7 802.25 479.8 V482.8 M811.3 475.2 C809.15 475.8 808.25 477.7 808.25 479.8 V482.8 M817.3 475.2 C815.15 475.8 814.25 477.7 814.25 479.8 V482.8 M823.3 475.2 C821.15 475.8 820.25 477.7 820.25 479.8 V482.8 M906.55 431.6 C904.4 432.2 903.5 434.1 903.5 436.2 V439.2 M912.5 431.6 C910.35 432.2 909.45 434.1 909.45 436.2 V439.2 M918.45 431.6 C916.3 432.2 915.4 434.1 915.4 436.2 V439.2 M924.4 431.6 C922.25 432.2 921.35 434.1 921.35 436.2 V439.2 M930.35 431.6 C928.2 432.2 927.3 434.1 927.3 436.2 V439.2 M936.3 431.6 C934.15 432.2 933.25 434.1 933.25 436.2 V439.2 M942.25 431.6 C940.1 432.2 939.2 434.1 939.2 436.2 V439.2 M948.2 431.6 C946.05 432.2 945.15 434.1 945.15 436.2 V439.2 M954.15 431.6 C952 432.2 951.1 434.1 951.1 436.2 V439.2 M960.1 431.6 C957.95 432.2 957.05 434.1 957.05 436.2 V439.2 M966.05 431.6 C963.9 432.2 963 434.1 963 436.2 V439.2 M972 431.6 C969.85 432.2 968.95 434.1 968.95 436.2 V439.2 M977.95 431.6 C975.8 432.2 974.9 434.1 974.9 436.2 V439.2 M917.55 442.5 C915.4 443.1 914.5 445 914.5 447.1 V450.1 M923.5 442.5 C921.35 443.1 920.45 445 920.45 447.1 V450.1 M929.45 442.5 C927.3 443.1 926.4 445 926.4 447.1 V450.1 M935.4 442.5 C933.25 443.1 932.35 445 932.35 447.1 V450.1 M941.35 442.5 C939.2 443.1 938.3 445 938.3 447.1 V450.1 M947.3 442.5 C945.15 443.1 944.25 445 944.25 447.1 V450.1 M953.25 442.5 C951.1 443.1 950.2 445 950.2 447.1 V450.1 M959.2 442.5 C957.05 443.1 956.15 445 956.15 447.1 V450.1 M965.15 442.5 C963 443.1 962.1 445 962.1 447.1 V450.1 M971.1 442.5 C968.95 443.1 968.05 445 968.05 447.1 V450.1 M977.05 442.5 C974.9 443.1 974 445 974 447.1 V450.1 M927.25 453.4 C925.1 454 924.2 455.9 924.2 458 V461 M933.2 453.4 C931.05 454 930.15 455.9 930.15 458 V461 M939.15 453.4 C937 454 936.1 455.9 936.1 458 V461 M945.1 453.4 C942.95 454 942.05 455.9 942.05 458 V461 M951.05 453.4 C948.9 454 948 455.9 948 458 V461 M957 453.4 C954.85 454 953.95 455.9 953.95 458 V461 M962.95 453.4 C960.8 454 959.9 455.9 959.9 458 V461 M968.9 453.4 C966.75 454 965.85 455.9 965.85 458 V461 M974.85 453.4 C972.7 454 971.8 455.9 971.8 458 V461 M938.25 464.3 C936.1 464.9 935.2 466.8 935.2 468.9 V471.9 M944.2 464.3 C942.05 464.9 941.15 466.8 941.15 468.9 V471.9 M950.15 464.3 C948 464.9 947.1 466.8 947.1 468.9 V471.9 M956.1 464.3 C953.95 464.9 953.05 466.8 953.05 468.9 V471.9 M962.05 464.3 C959.9 464.9 959 466.8 959 468.9 V471.9 M968 464.3 C965.85 464.9 964.95 466.8 964.95 468.9 V471.9 M973.95 464.3 C971.8 464.9 970.9 466.8 970.9 468.9 V471.9 M948.25 475.2 C946.1 475.8 945.2 477.7 945.2 479.8 V482.8 M954.2 475.2 C952.05 475.8 951.15 477.7 951.15 479.8 V482.8 M960.15 475.2 C958 475.8 957.1 477.7 957.1 479.8 V482.8 M966.1 475.2 C963.95 475.8 963.05 477.7 963.05 479.8 V482.8 M972.05 475.2 C969.9 475.8 969 477.7 969 479.8 V482.8" stroke="#1a1a1a" stroke-width="1.9" stroke-linecap="round" fill="none"/>
<path class="ic" d="M868.7 438.6 L826.9 482.5 M873.9 438.6 L845.6 482.5 M878.8 438.6 L864.8 482.5 M883.2 438.6 L883.1 482.5 M887.9 438.6 L901.9 482.5 M892.8 438.6 L921.1 482.5 M898.1 438.6 L940 482.5"/>
</svg>
</body></html>
